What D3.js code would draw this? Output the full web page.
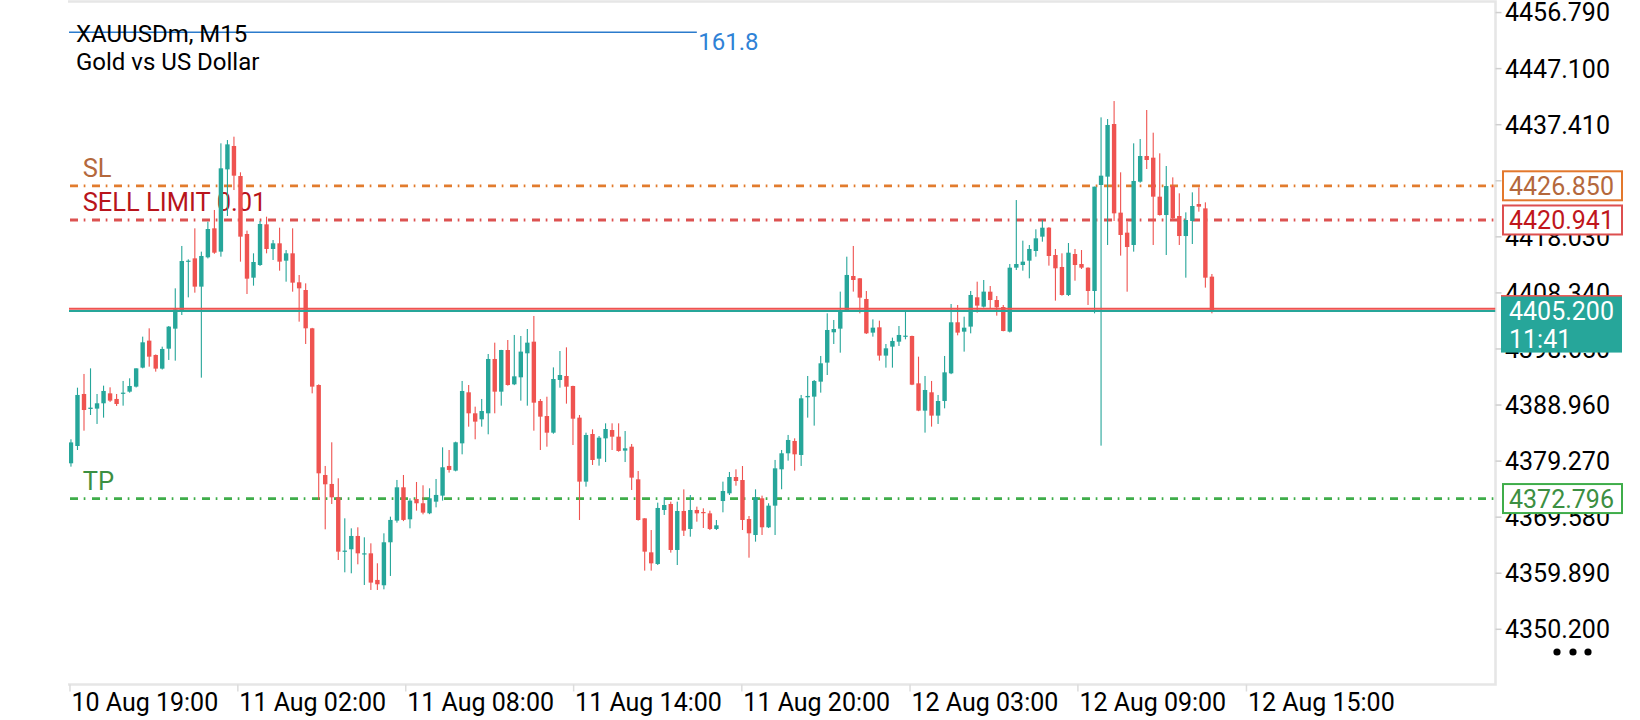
<!DOCTYPE html>
<html>
<head>
<meta charset="utf-8">
<script src="https://d3js.org/d3.v7.min.js"></script>
<style>
  html, body { margin: 0; padding: 0; background: #fff; }
  svg { display: block; font-family: Roboto, "Noto Sans", sans-serif; }
</style>
</head>
<body>
<div id="chart"></div>
<script>
// XAUUSDm M15 candles (oldest first)
const openP = [
  4378.89, 4381.88, 4390.87, 4388.28, 4388.34, 4389.26, 4390.98, 4390.01, 4390.95, 4391.27,
  4392.14, 4395.42, 4400.09, 4397.61, 4395.25, 4398.70, 4402.16, 4405.39, 4413.80, 4414.31,
  4409.42, 4414.49, 4419.50, 4415.47, 4429.69, 4433.73, 4428.54, 4418.52, 4410.97, 4413.16,
  4420.19, 4415.93, 4416.91, 4413.91, 4415.18, 4410.17, 4408.84, 4402.22, 4392.42, 4376.87,
  4375.32, 4373.01, 4363.60, 4364.03, 4366.33, 4363.20, 4363.33, 4358.73, 4357.81, 4365.24,
  4368.98, 4374.74, 4369.21, 4372.72, 4371.98, 4370.25, 4372.26, 4373.30, 4378.43, 4377.62,
  4382.34, 4391.16, 4387.53, 4386.49, 4387.53, 4396.92, 4391.27, 4398.47, 4392.54, 4393.75,
  4397.90, 4399.91, 4389.66, 4387.06, 4384.18, 4393.29, 4393.98, 4392.25, 4386.78, 4375.72,
  4383.95, 4379.69, 4383.20, 4384.64, 4383.49, 4381.08, 4381.76, 4376.12, 4369.38, 4363.50,
  4361.49, 4370.82, 4371.86, 4363.91, 4370.65, 4367.54, 4370.82, 4370.47, 4370.24, 4367.54,
  4372.37, 4373.70, 4376.52, 4376.00, 4369.26, 4366.50, 4372.84, 4367.83, 4371.57, 4377.85,
  4380.62, 4382.75, 4380.33, 4390.30, 4390.41, 4393.00, 4396.29, 4401.53, 4402.16, 4405.39,
  4411.26, 4410.86, 4407.29, 4401.47, 4402.39, 4397.50, 4399.05, 4399.91, 4400.85, 4400.89,
  4392.71, 4387.99, 4391.16, 4387.13, 4389.66, 4394.44, 4403.26, 4401.64, 4402.51, 4407.58,
  4405.96, 4408.55, 4407.11, 4405.90, 4401.64, 4412.70, 4413.16, 4413.91, 4415.58, 4418.06,
  4419.61, 4414.89, 4412.82, 4407.98, 4415.06, 4413.33, 4412.70, 4408.67, 4426.99, 4428.43,
  4437.53, 4422.21, 4418.75, 4416.62, 4427.56, 4432.00, 4431.71, 4424.97, 4421.80, 4426.81,
  4421.63, 4418.17, 4420.77, 4423.70, 4422.95, 4411.15
];
const highP = [
  4383.04, 4391.96, 4394.33, 4395.30, 4390.87, 4392.31, 4392.02, 4390.87, 4393.12, 4393.58,
  4395.30, 4400.78, 4402.22, 4397.70, 4399.05, 4402.62, 4409.13, 4416.45, 4414.14, 4419.50,
  4415.47, 4420.65, 4422.67, 4434.19, 4434.76, 4435.34, 4429.18, 4419.10, 4415.18, 4420.77,
  4421.51, 4417.48, 4419.61, 4415.75, 4419.50, 4411.43, 4409.99, 4402.30, 4392.54, 4378.43,
  4382.52, 4376.30, 4369.38, 4367.65, 4367.83, 4366.10, 4365.06, 4361.61, 4366.79, 4369.67,
  4376.01, 4376.87, 4372.84, 4375.66, 4375.09, 4374.57, 4376.18, 4381.65, 4381.19, 4382.63,
  4393.12, 4392.42, 4388.68, 4390.01, 4397.78, 4399.74, 4398.50, 4400.20, 4401.07, 4400.89,
  4402.10, 4404.35, 4390.00, 4390.40, 4395.47, 4398.30, 4398.93, 4392.30, 4387.24, 4384.18,
  4384.76, 4383.61, 4385.80, 4385.80, 4385.80, 4384.47, 4382.23, 4377.56, 4369.40, 4367.36,
  4372.09, 4373.01, 4372.26, 4372.26, 4374.39, 4373.41, 4371.40, 4371.11, 4370.70, 4369.09,
  4375.72, 4377.39, 4377.85, 4378.42, 4369.78, 4374.39, 4373.30, 4371.98, 4379.47, 4381.19,
  4383.79, 4383.21, 4390.70, 4393.98, 4393.29, 4397.44, 4404.81, 4403.66, 4408.56, 4414.60,
  4416.45, 4410.90, 4408.67, 4403.77, 4403.54, 4399.51, 4400.61, 4402.62, 4405.21, 4400.95,
  4397.32, 4393.98, 4393.12, 4390.70, 4397.44, 4406.42, 4406.25, 4404.23, 4408.67, 4410.28,
  4410.57, 4409.53, 4407.80, 4406.25, 4413.33, 4424.39, 4417.37, 4416.62, 4419.33, 4420.94,
  4419.70, 4415.93, 4415.18, 4416.96, 4415.93, 4415.75, 4412.75, 4426.70, 4438.68, 4438.39,
  4441.50, 4429.18, 4420.65, 4434.19, 4434.94, 4439.95, 4436.03, 4432.46, 4430.27, 4428.31,
  4425.55, 4422.26, 4425.72, 4426.58, 4423.99, 4411.61
];
const lowP = [
  4378.31, 4381.19, 4384.53, 4387.24, 4385.69, 4386.78, 4389.50, 4388.80, 4388.85, 4391.10,
  4392.00, 4395.30, 4395.59, 4394.73, 4395.10, 4396.75, 4396.63, 4404.52, 4407.57, 4408.38,
  4393.69, 4414.30, 4415.10, 4414.60, 4421.63, 4426.12, 4413.74, 4408.15, 4409.59, 4413.00,
  4415.18, 4414.03, 4412.18, 4410.28, 4408.55, 4403.37, 4399.51, 4390.98, 4372.55, 4367.48,
  4371.86, 4362.18, 4360.05, 4359.88, 4361.43, 4357.86, 4357.00, 4357.00, 4357.11, 4359.42,
  4368.63, 4368.90, 4367.65, 4370.71, 4370.07, 4370.10, 4371.28, 4372.44, 4377.28, 4377.50,
  4380.44, 4385.22, 4383.04, 4385.22, 4383.90, 4387.53, 4388.85, 4392.31, 4392.40, 4389.72,
  4388.85, 4384.53, 4381.19, 4381.76, 4384.00, 4391.96, 4389.20, 4382.05, 4369.09, 4374.85,
  4378.60, 4378.48, 4379.11, 4381.19, 4380.90, 4379.11, 4374.28, 4368.98, 4360.34, 4360.34,
  4361.31, 4369.96, 4363.45, 4361.31, 4366.33, 4366.21, 4368.80, 4367.71, 4367.36, 4367.36,
  4370.42, 4373.41, 4375.02, 4367.36, 4362.58, 4365.35, 4366.50, 4367.70, 4366.50, 4374.40,
  4379.35, 4377.62, 4378.43, 4386.78, 4385.40, 4391.10, 4394.15, 4399.51, 4398.01, 4405.20,
  4408.56, 4404.81, 4401.24, 4400.78, 4396.63, 4395.42, 4395.42, 4399.17, 4400.32, 4392.40,
  4387.90, 4384.19, 4385.23, 4385.69, 4388.39, 4394.30, 4401.01, 4398.19, 4401.35, 4404.93,
  4405.80, 4405.67, 4404.41, 4401.70, 4401.50, 4412.30, 4412.18, 4410.86, 4414.60, 4417.19,
  4413.05, 4407.00, 4407.86, 4407.80, 4410.45, 4412.47, 4406.25, 4404.81, 4381.94, 4416.62,
  4420.77, 4414.78, 4408.55, 4415.47, 4427.39, 4429.75, 4416.62, 4421.70, 4414.89, 4420.77,
  4416.62, 4410.97, 4416.79, 4422.38, 4409.25, 4404.81
];
const closeP = [
  4382.50, 4390.70, 4388.10, 4388.51, 4389.26, 4391.39, 4389.72, 4389.14, 4391.10, 4392.25,
  4395.30, 4399.80, 4397.32, 4395.25, 4398.65, 4402.51, 4405.50, 4413.85, 4413.91, 4409.42,
  4414.72, 4419.38, 4415.29, 4429.87, 4434.01, 4428.60, 4418.06, 4410.80, 4413.68, 4420.25,
  4415.93, 4416.91, 4413.74, 4415.18, 4410.11, 4409.13, 4402.22, 4392.14, 4377.16, 4375.26,
  4373.01, 4363.62, 4363.80, 4366.33, 4363.33, 4363.33, 4358.27, 4357.98, 4365.24, 4369.10,
  4374.74, 4369.10, 4372.44, 4371.98, 4370.36, 4372.84, 4373.42, 4378.20, 4377.74, 4382.52,
  4391.39, 4387.53, 4386.09, 4387.93, 4396.92, 4391.27, 4398.47, 4392.42, 4393.92, 4398.19,
  4399.74, 4389.37, 4386.95, 4384.18, 4393.46, 4394.15, 4392.13, 4386.60, 4375.72, 4383.78,
  4379.46, 4383.32, 4384.82, 4383.49, 4381.02, 4381.48, 4376.41, 4369.09, 4363.62, 4361.60,
  4371.17, 4371.68, 4363.91, 4370.65, 4367.25, 4370.82, 4370.24, 4370.36, 4367.54, 4368.17,
  4374.10, 4376.52, 4375.83, 4369.09, 4366.79, 4373.01, 4367.83, 4371.57, 4378.02, 4380.62,
  4382.92, 4380.44, 4390.12, 4390.53, 4393.12, 4396.17, 4401.93, 4402.10, 4405.10, 4411.44,
  4410.57, 4407.52, 4401.35, 4402.33, 4397.50, 4398.76, 4400.03, 4401.07, 4400.95, 4392.48,
  4387.99, 4391.56, 4387.13, 4389.66, 4394.61, 4403.26, 4401.47, 4402.33, 4407.98, 4406.14,
  4408.56, 4407.11, 4405.85, 4401.76, 4412.70, 4413.33, 4413.74, 4415.93, 4417.77, 4419.61,
  4414.72, 4412.59, 4407.98, 4415.29, 4413.16, 4412.70, 4408.67, 4426.70, 4428.60, 4437.36,
  4422.09, 4418.35, 4416.27, 4427.68, 4432.00, 4431.31, 4424.97, 4421.80, 4426.81, 4421.23,
  4418.17, 4420.94, 4423.36, 4423.24, 4410.97, 4405.20
];

const yTicks = [4456.790, 4447.100, 4437.410, 4427.720, 4418.030, 4408.340,
                4398.650, 4388.960, 4379.270, 4369.580, 4359.890, 4350.200];
const xLabels = ["10 Aug 19:00", "11 Aug 02:00", "11 Aug 08:00", "11 Aug 14:00",
                 "11 Aug 20:00", "12 Aug 03:00", "12 Aug 09:00", "12 Aug 15:00"];
const xLabelBars = [-0.15, 25.6, 51.35, 77.1, 102.9, 128.7, 154.45, 180.3];

const levelNames = ["SL", "SELL LIMIT 0.01", "TP"];
const levelPrices = [4426.850, 4420.941, 4372.796];

const bidPrice = 4405.200;
const askPrice = 4405.600;
const barTimer = "11:41";
const titleLines = ["XAUUSDm, M15", "Gold vs US Dollar"];
const fiboLabel = "161.8";
const fiboPrice = 4453.38;
const fiboEndBar = 96;

// ---- layout ----
const W = 1640, H = 720;
const plot = { left: 69, right: 1495.5, top: 0, bottom: 684.5 };
const bull = "#26a69a", bear = "#ef5350";
const levelColors = [
  { line: "#e27c2e", text: "#b4683c", box: "#e3782c", boxText: "#b4683c" },
  { line: "#dc5251", text: "#b8141b", box: "#dd4f4f", boxText: "#c0161c" },
  { line: "#3fad4a", text: "#3c8f42", box: "#3fad4a", boxText: "#3c8f42" }
];

const svg = d3.select("#chart").append("svg")
  .attr("width", W)
  .attr("height", H);

svg.append("rect").attr("width", W).attr("height", H).attr("fill", "#fff");

let x = d3.scaleLinear().domain([-0.3, 218.5]).range([plot.left, plot.right]);
let y = d3.scaleLinear().domain([4456.79, 4350.2]).range([12.56, 629.3]);

svg.append("clipPath").attr("id", "plotclip")
  .append("rect")
  .attr("x", plot.left).attr("y", plot.top)
  .attr("width", plot.right - plot.left).attr("height", plot.bottom - plot.top);

// frame (top, right, bottom)
svg.append("path")
  .attr("d", `M${plot.left - 1},1.5 H${plot.right} V${plot.bottom} H${plot.left - 1}`)
  .attr("fill", "none")
  .attr("stroke", "#e6e6e6")
  .attr("stroke-width", 2.6);

let inner = svg.append("g").attr("clip-path", "url(#plotclip)");

// order levels: dash-dot lines with captions
levelPrices.forEach((p, k) => {
  inner.append("line")
    .attr("x1", plot.left).attr("x2", plot.right)
    .attr("y1", y(p)).attr("y2", y(p))
    .attr("stroke", levelColors[k].line)
    .attr("stroke-width", 2.8)
    .attr("stroke-dasharray", "8,5.7,1.7,6.6")
    .attr("stroke-dashoffset", -1);

  inner.append("text")
    .attr("x", 82.7)
    .attr("y", y(p) - 9)
    .attr("font-size", 25.5)
    .attr("fill", levelColors[k].text)
    .text(levelNames[k]);
});

// symbol caption
titleLines.forEach((t, k) => {
  svg.append("text")
    .attr("x", 76)
    .attr("y", k == 0 ? 41.5 : 69.5)
    .attr("font-size", 24)
    .attr("fill", "#000")
    .text(t);
});

// fibo expansion level
inner.append("line")
  .attr("x1", plot.left).attr("x2", x(fiboEndBar))
  .attr("y1", y(fiboPrice)).attr("y2", y(fiboPrice))
  .attr("stroke", "#2b7bcc")
  .attr("stroke-width", 1.4);
svg.append("text")
  .attr("x", x(fiboEndBar) + 1.5)
  .attr("y", y(fiboPrice) + 17.8)
  .attr("font-size", 24)
  .attr("fill", "#2f82d6")
  .text(fiboLabel);

// candles
let candles = d3.range(openP.length).map(i => ({
  i: i, o: openP[i], h: highP[i], l: lowP[i], c: closeP[i]
}));

inner.selectAll(".wick")
  .data(candles)
  .enter()
  .append("rect")
  .attr("class", "wick")
  .attr("x", d => x(d.i) - 0.55)
  .attr("y", d => y(d.h))
  .attr("width", 1.1)
  .attr("height", d => Math.max(1, y(d.l) - y(d.h)))
  .attr("fill", d => d.c >= d.o ? bull : bear);

inner.selectAll(".body")
  .data(candles)
  .enter()
  .append("rect")
  .attr("class", "body")
  .attr("x", d => x(d.i) - 2.2)
  .attr("y", d => y(Math.max(d.o, d.c)))
  .attr("width", 4.4)
  .attr("height", d => Math.max(1.2, Math.abs(y(d.o) - y(d.c))))
  .attr("fill", d => d.c >= d.o ? bull : bear);

// ask / bid lines
inner.append("line")
  .attr("x1", plot.left).attr("x2", plot.right)
  .attr("y1", y(askPrice)).attr("y2", y(askPrice))
  .attr("stroke", bear).attr("stroke-width", 2);
inner.append("line")
  .attr("x1", plot.left).attr("x2", plot.right)
  .attr("y1", y(bidPrice)).attr("y2", y(bidPrice))
  .attr("stroke", bull).attr("stroke-width", 2);

// price axis
yTicks.forEach(v => {
  svg.append("line")
    .attr("x1", plot.right).attr("x2", plot.right + 6)
    .attr("y1", y(v)).attr("y2", y(v))
    .attr("stroke", "#cfcfcf").attr("stroke-width", 1.5);
  svg.append("text")
    .attr("x", 1505)
    .attr("y", y(v) + 8.9)
    .attr("font-size", 25)
    .attr("fill", "#000")
    .text(v.toFixed(3));
});

// level price boxes
levelPrices.forEach((p, k) => {
  svg.append("rect")
    .attr("x", 1503).attr("y", y(p) - 14.5)
    .attr("width", 119).attr("height", 29)
    .attr("fill", "#fff")
    .attr("stroke", levelColors[k].box)
    .attr("stroke-width", 2);
  svg.append("text")
    .attr("x", 1509)
    .attr("y", y(p) + 9)
    .attr("font-size", 25)
    .attr("fill", levelColors[k].boxText)
    .text(p.toFixed(3));
});

// current bid box with bar timer
svg.append("rect")
  .attr("x", 1501).attr("y", y(bidPrice) - 16)
  .attr("width", 121).attr("height", 2)
  .attr("fill", bear);
svg.append("rect")
  .attr("x", 1501).attr("y", y(bidPrice) - 14.5)
  .attr("width", 121).attr("height", 56)
  .attr("fill", bull);
svg.append("text")
  .attr("x", 1509).attr("y", y(bidPrice) + 8.5)
  .attr("font-size", 25).attr("fill", "#fff")
  .text(bidPrice.toFixed(3));
svg.append("text")
  .attr("x", 1509).attr("y", y(bidPrice) + 37)
  .attr("font-size", 25).attr("fill", "#fff")
  .text(barTimer);

// time axis
xLabelBars.forEach((b, k) => {
  svg.append("line")
    .attr("x1", x(b)).attr("x2", x(b))
    .attr("y1", plot.bottom).attr("y2", plot.bottom + 7)
    .attr("stroke", "#dcdcdc").attr("stroke-width", 1.5);
  svg.append("text")
    .attr("x", x(b) + 1.5)
    .attr("y", 710.5)
    .attr("font-size", 25)
    .attr("fill", "#000")
    .text(xLabels[k]);
});

// menu dots
[1557, 1573, 1588].forEach(cx => {
  svg.append("circle")
    .attr("cx", cx).attr("cy", 652)
    .attr("r", 3.6)
    .attr("fill", "#000");
});
</script>
</body>
</html>
